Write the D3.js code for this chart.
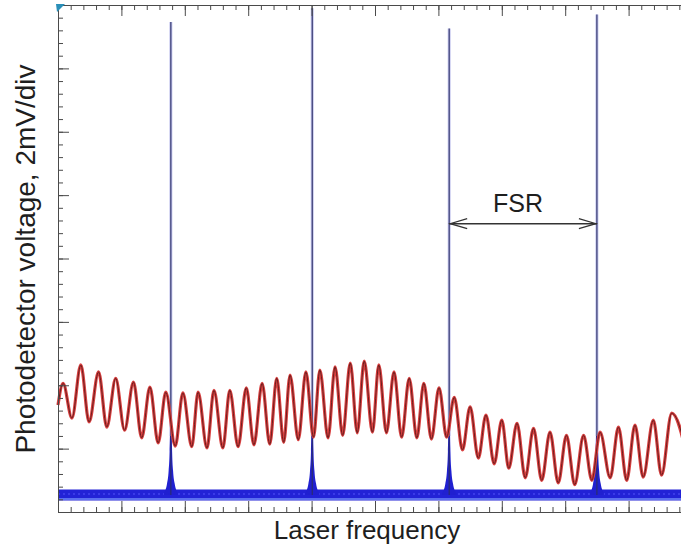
<!DOCTYPE html>
<html lang="en">
<head>
  <meta charset="UTF-8" />
  <title>Fabry-Perot scan</title>
  <style>
    body {
      margin: 0;
      background: white;
      overflow: hidden;
    }
    svg {
      display: block;
    }
    text {
      font-family: "Liberation Sans", Arial, sans-serif;
      fill: #1e1e1e;
    }
  </style>
</head>
<body>
<svg id="chart"></svg>
<script src="https://d3js.org/d3.v7.min.js"></script>

<script>
const width = 681;
const height = 548;

// screen in divisions: 10 across, 8 up (2 mV/div)
// red trace: turning points, in divisions
const redX = [0, 0.08, 0.22, 0.36, 0.49, 0.64, 0.77, 0.91, 1.05, 1.19, 1.32, 1.45, 1.58, 1.70, 1.85, 1.97,
  2.11, 2.21, 2.35, 2.46, 2.60, 2.71, 2.84, 2.97, 3.09, 3.22, 3.34, 3.45, 3.56, 3.66, 3.79, 3.91,
  4.03, 4.13, 4.26, 4.37, 4.49, 4.61, 4.72, 4.83, 4.96, 5.06, 5.18, 5.30, 5.42, 5.54, 5.66, 5.77,
  5.89, 6.01, 6.13, 6.25, 6.38, 6.50, 6.63, 6.75, 6.88, 7.00, 7.11, 7.24, 7.37, 7.50, 7.63, 7.76,
  7.89, 8.02, 8.15, 8.29, 8.42, 8.55, 8.71, 8.84, 8.97, 9.10, 9.23, 9.39, 9.52, 9.68, 9.97];
const redY = [1.69, 2.03, 1.48, 2.32, 1.42, 2.21, 1.34, 2.11, 1.29, 2.05, 1.17, 1.97, 1.09, 1.89, 1.04, 1.88,
  1.03, 1.89, 1.01, 1.92, 1.01, 1.92, 1.03, 1.96, 1.06, 2.03, 1.07, 2.11, 1.10, 2.16, 1.14, 2.21,
  1.18, 2.24, 1.17, 2.29, 1.21, 2.35, 1.25, 2.38, 1.26, 2.32, 1.25, 2.21, 1.18, 2.11, 1.17, 2.03,
  1.15, 1.96, 1.18, 1.81, 0.98, 1.66, 0.85, 1.53, 0.76, 1.45, 0.69, 1.40, 0.54, 1.32, 0.50, 1.26,
  0.46, 1.21, 0.43, 1.21, 0.50, 1.26, 0.54, 1.34, 0.50, 1.37, 0.55, 1.45, 0.58, 1.56, 0.66];

// blue trace: transmission baseline and the cavity resonances
const blueBase = 0.27;
const peakX = [1.78, 4.01, 6.17, 8.50];
const peakTop = [7.73, 7.95, 7.63, 7.85];
// resonance skirt read from the first peak: [half width, level] in divisions
const peakSkirt = [[0.11, 0.30], [0.06, 0.45], [0.035, 0.65], [0.02, 0.95], [0.012, 1.4], [0.006, 2.2]];

const x = d3.scaleLinear().domain([0, 10]).range([58, 692]);
const y = d3.scaleLinear().domain([0, 8]).range([512, 5]);

const svg = d3.select("#chart")
  .attr("width", width)
  .attr("height", height)
  .attr("viewBox", [0, 0, width, height]);

// blue noise band
svg.append("line")
  .attr("x1", x(0)).attr("x2", x(10))
  .attr("y1", y(blueBase)).attr("y2", y(blueBase))
  .attr("stroke", "#2222d6")
  .attr("stroke-width", 11);
svg.append("line")
  .attr("x1", x(0)).attr("x2", x(10))
  .attr("y1", y(blueBase) + 4).attr("y2", y(blueBase) + 4)
  .attr("stroke", "#5a6ef0")
  .attr("stroke-width", 2);
svg.append("line")
  .attr("x1", x(0)).attr("x2", x(10))
  .attr("y1", y(blueBase) - 1).attr("y2", y(blueBase) - 1)
  .attr("stroke", "#3a3ae8")
  .attr("stroke-width", 2)
  .attr("stroke-dasharray", "2 3");

// resonance peaks
const skirtArea = d3.area()
  .x(d => x(d[0]))
  .y0(y(blueBase))
  .y1(d => y(d[1]))
  .curve(d3.curveMonotoneX);

peakX.forEach((px, i) => {
  const pts = peakSkirt.map(s => [px - s[0], s[1]])
    .concat([[px, peakSkirt[peakSkirt.length - 1][1] + 0.4]])
    .concat(peakSkirt.slice().reverse().map(s => [px + s[0], s[1]]));
  svg.append("path")
    .attr("d", skirtArea(pts))
    .attr("fill", "#2020d0");
  svg.append("line")
    .attr("x1", x(px)).attr("x2", x(px))
    .attr("y1", y(1.2)).attr("y2", y(peakTop[i]))
    .attr("stroke", "#c4c6ee")
    .attr("stroke-width", 3);
  svg.append("line")
    .attr("x1", x(px)).attr("x2", x(px))
    .attr("y1", y(blueBase)).attr("y2", y(peakTop[i]))
    .attr("stroke", "#2c2e66")
    .attr("stroke-width", 1.1);
});

// red trace
const redPts = redX.map((v, i) => [v, redY[i]]);
const redLine = d3.line()
  .x(d => x(d[0]))
  .y(d => y(d[1]))
  .curve(d3.curveMonotoneX);

svg.append("path")
  .attr("d", redLine(redPts))
  .attr("fill", "none")
  .attr("stroke", "#d84040")
  .attr("stroke-width", 3.2);
svg.append("path")
  .attr("d", redLine(redPts))
  .attr("fill", "none")
  .attr("stroke", "#5e1a1a")
  .attr("stroke-width", 0.9);

// frame with inward graticule ticks
const minor = d3.range(0, 10.001, 0.2);
const major = d3.range(0, 11, 1);
const minorY = d3.range(0, 8.001, 0.2);
const majorY = d3.range(0, 9, 1);

function drawAxis(axisFn, scale, vals, size, transform) {
  const g = svg.append("g")
    .attr("transform", transform)
    .call(axisFn(scale).tickValues(vals).tickSize(size).tickSizeOuter(0).tickFormat(""));
  g.selectAll("path, line").attr("stroke", "#4a4a4a");
  return g;
}

drawAxis(d3.axisBottom, x, minor, 5, `translate(0,${y(8)})`);
drawAxis(d3.axisBottom, x, major, 11, `translate(0,${y(8)})`);
drawAxis(d3.axisTop, x, minor, 5, `translate(0,${y(0)})`);
drawAxis(d3.axisTop, x, major, 11, `translate(0,${y(0)})`);
drawAxis(d3.axisRight, y, minorY, 5, `translate(${x(0)},0)`);
drawAxis(d3.axisRight, y, majorY, 11, `translate(${x(0)},0)`);
drawAxis(d3.axisLeft, y, minorY, 5, `translate(${x(10)},0)`);
drawAxis(d3.axisLeft, y, majorY, 11, `translate(${x(10)},0)`);

// trigger marker at the corner
svg.append("path")
  .attr("d", `M${x(0) - 2},${y(8) - 1}L${x(0) + 7},${y(8) - 1}L${x(0) - 1},${y(8) + 7}Z`)
  .attr("fill", "#2a8fb8");

// FSR annotation between two resonances
const arrowY = 4.55;
const ax1 = x(peakX[2]);
const ax2 = x(peakX[3]);
const ay = y(arrowY);
svg.append("line")
  .attr("x1", ax1).attr("x2", ax2)
  .attr("y1", ay).attr("y2", ay)
  .attr("stroke", "#333")
  .attr("stroke-width", 1.5);
svg.append("path")
  .attr("d", `M${ax1 + 18},${ay - 5}L${ax1 + 1},${ay}L${ax1 + 18},${ay + 5}` +
             `M${ax2 - 18},${ay - 5}L${ax2 - 1},${ay}L${ax2 - 18},${ay + 5}`)
  .attr("fill", "none")
  .attr("stroke", "#333")
  .attr("stroke-width", 1.2);
svg.append("text")
  .attr("x", (ax1 + ax2) / 2 - 5)
  .attr("y", ay - 12)
  .attr("text-anchor", "middle")
  .attr("font-size", 25)
  .text("FSR");

// axis titles
svg.append("text")
  .attr("x", 367)
  .attr("y", 539)
  .attr("text-anchor", "middle")
  .attr("font-size", 26)
  .text("Laser frequency");

svg.append("text")
  .attr("transform", `translate(35,${259}) rotate(-90)`)
  .attr("text-anchor", "middle")
  .attr("font-size", 28)
  .text("Photodetector voltage, 2mV/div");
</script>
</body>
</html>
